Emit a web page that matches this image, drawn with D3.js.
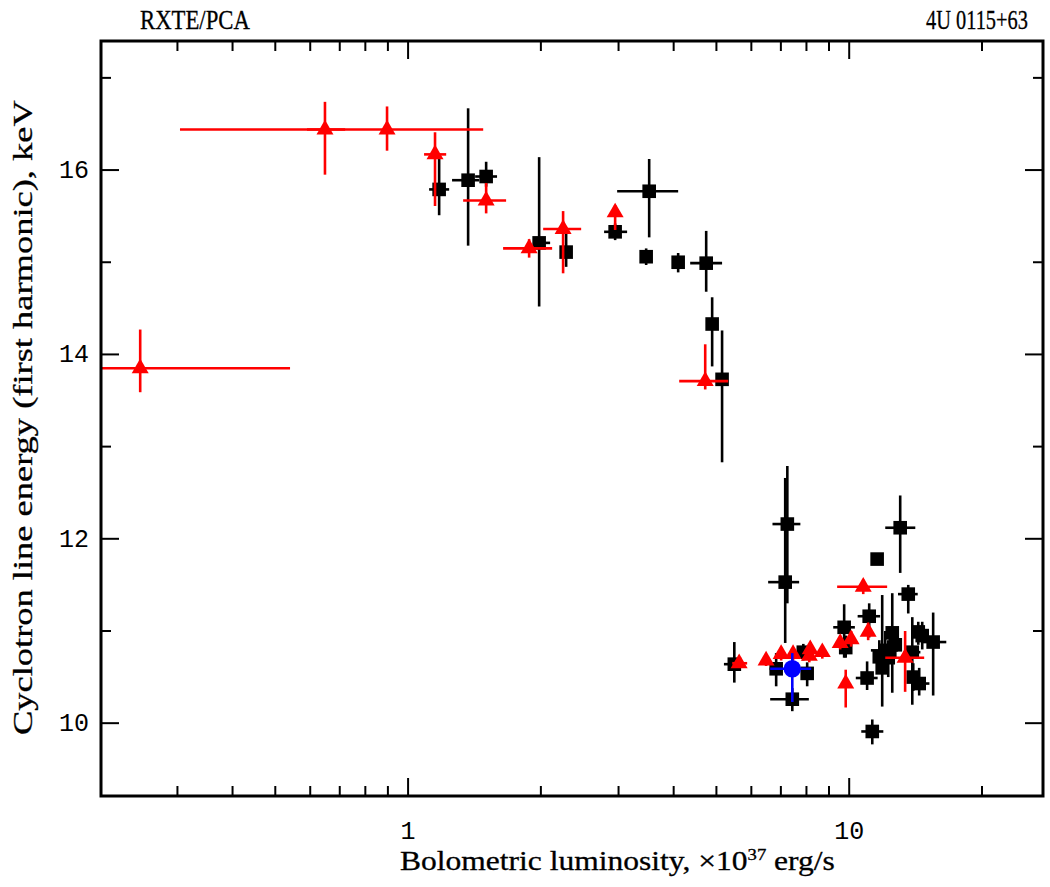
<!DOCTYPE html>
<html>
<head>
<meta charset="utf-8">
<script src="https://cdn.jsdelivr.net/npm/d3@7/dist/d3.min.js"></script>
<style>
    body { margin: 0; background: #fff; }
    .tick-label { font-family: "Liberation Mono", "DejaVu Sans Mono", monospace; font-size: 25px; fill: #000; }
    .title { font-family: "Liberation Serif", "DejaVu Serif", serif; font-size: 27px; fill: #000; stroke: #000; stroke-width: 0.3px; }
</style>
</head>
<body>
<svg id="chart" width="1050" height="887"></svg>
<script>
// Data: [L, Llo, Lhi, E, Elo, Ehi]  (L in 1e37 erg/s, E in keV)
const squares = [
    [1.176, 1.116, 1.239, 15.79, 15.51, 16.12],
    [1.368, 1.258, 1.45, 15.89, 15.18, 16.67],
    [1.503, 1.419, 1.591, 15.93, 15.82, 16.09],
    [1.982, 1.919, 2.099, 15.21, 14.52, 16.14],
    [2.282, 2.25, 2.32, 15.11, 14.95, 15.32],
    [2.947, 2.782, 3.137, 15.33, 15.24, 15.42],
    [3.52, 2.978, 4.095, 15.77, 15.27, 16.12],
    [3.465, 3.44, 3.49, 15.06, 14.97, 15.15],
    [4.095, 4.05, 4.14, 15.00, 14.89, 15.10],
    [4.74, 4.36, 5.15, 14.99, 14.68, 15.34],
    [4.89, 4.85, 4.93, 14.33, 13.87, 14.62],
    [5.15, 5.1, 5.2, 13.73, 12.83, 14.26],
    [7.24, 6.7, 7.75, 12.16, 11.30, 12.79],
    [7.16, 6.55, 7.7, 11.53, 10.87, 12.66],
    [5.49, 5.2, 5.65, 10.64, 10.44, 10.88],
    [6.83, 6.6, 7.05, 10.59, 10.4, 10.76],
    [8.03, 7.85, 8.2, 10.54, 10.4, 10.66],
    [7.87, 7.7, 8.05, 10.77, 10.68, 10.86],
    [7.43, 6.62, 8.1, 10.26, 10.13, 10.38],
    [13.05, 12.07, 14.12, 12.12, 11.63, 12.47],
    [11.57, 11.45, 11.7, 11.78, 11.72, 11.84],
    [13.61, 12.9, 14.3, 11.40, 11.19, 11.50],
    [9.74, 9.2, 10.3, 11.04, 10.71, 11.29],
    [11.10, 10.45, 11.75, 11.16, 10.93, 11.30],
    [9.82, 9.6, 10.0, 10.82, 10.71, 10.95],
    [10.98, 10.35, 11.6, 10.49, 10.36, 10.67],
    [11.28, 10.65, 11.95, 9.91, 9.77, 10.04],
    [11.88, 11.5, 12.2, 10.60, 10.18, 11.39],
    [12.52, 12.2, 12.85, 10.98, 10.33, 11.41],
    [12.07, 11.2, 12.9, 10.79, 10.6, 11.0],
    [12.72, 12.4, 13.0, 10.85, 10.7, 11.0],
    [12.26, 11.9, 12.6, 10.71, 10.5, 10.9],
    [13.90, 13.3, 14.5, 10.77, 10.20, 11.15],
    [14.34, 14.0, 14.7, 10.99, 10.85, 11.1],
    [14.64, 14.3, 15.0, 10.95, 10.8, 11.1],
    [15.50, 14.64, 16.6, 10.88, 10.30, 11.20],
    [13.97, 13.6, 14.3, 10.50, 10.35, 10.65],
    [14.41, 14.0, 15.2, 10.43, 10.3, 10.6],
    [11.7, 11.5, 11.9, 10.72, 10.55, 10.9]
];

const triangles = [
    [0.247, 0.2, 0.54, 13.85, 13.59, 14.27],
    [0.648, 0.59, 0.72, 16.44, 15.95, 16.74],
    [0.896, 0.304, 1.48, 16.44, 16.21, 16.69],
    [1.151, 1.087, 1.22, 16.17, 15.61, 16.41],
    [1.503, 1.333, 1.668, 15.67, 15.53, 15.86],
    [1.881, 1.642, 2.121, 15.15, 15.05, 15.25],
    [2.246, 2.024, 2.468, 15.36, 14.88, 15.555],
    [2.947, 2.947, 2.947, 15.54, 15.35, 15.62],
    [4.716, 4.117, 5.316, 13.71, 13.62, 14.11],
    [5.63, 5.43, 5.87, 10.65, 10.6, 10.7],
    [6.48, 6.4, 6.6, 10.68, 10.62, 10.74],
    [7.01, 6.9, 7.1, 10.75, 10.68, 10.82],
    [7.46, 7.35, 7.6, 10.75, 10.68, 10.82],
    [8.16, 8.0, 8.3, 10.80, 10.72, 10.88],
    [8.12, 8.0, 8.25, 10.73, 10.66, 10.80],
    [8.69, 8.55, 8.85, 10.77, 10.7, 10.84],
    [9.54, 9.4, 9.7, 10.87, 10.8, 10.95],
    [10.1, 9.9, 10.3, 10.91, 10.83, 11.0],
    [9.82, 9.82, 9.82, 10.43, 10.17, 10.58],
    [10.76, 9.39, 12.19, 11.48, 11.4, 11.56],
    [11.04, 10.9, 11.2, 10.99, 10.9, 11.09],
    [13.39, 12.07, 14.79, 10.71, 10.34, 11.0]
];

const circles = [
    [7.43, 6.62, 8.20, 10.59, 10.23, 10.76]
];

const xMajor = [1, 10];
const xMinor = [0.3, 0.4, 0.5, 0.6, 0.7, 0.8, 0.9, 2, 3, 4, 5, 6, 7, 8, 9, 20];
const yMajor = [10, 12, 14, 16];
const yMinor = [11, 13, 15, 17];

const svg = d3.select('#chart');
const margin = { top: 41, right: 7, bottom: 91, left: 101 };
const width = 1050 - margin.left - margin.right;
const height = 887 - margin.top - margin.bottom;

const x = d3.scaleLog().domain([0.2013, 27.5]).range([0, width]);
const y = d3.scaleLinear().domain([9.21, 17.4]).range([height, 0]);

const g = svg.append('g')
    .attr('transform', `translate(${margin.left},${margin.top})`);

g.append('clipPath').attr('id', 'clip')
    .append('rect').attr('width', width).attr('height', height);

const plot = g.append('g').attr('clip-path', 'url(#clip)');

function drawSeries(data, color, shape) {
    const s = plot.append('g');
    data.forEach(d => {
        s.append('line')
            .attr('x1', x(d[1])).attr('x2', x(d[2]))
            .attr('y1', y(d[3])).attr('y2', y(d[3]))
            .attr('stroke', color).attr('stroke-width', 2.6);
        s.append('line')
            .attr('x1', x(d[0])).attr('x2', x(d[0]))
            .attr('y1', y(d[4])).attr('y2', y(d[5]))
            .attr('stroke', color).attr('stroke-width', 2.6);
    });
    s.selectAll('.mark')
        .data(data)
        .enter()
        .append('path')
        .attr('transform', d => `translate(${x(d[0])},${y(d[3])})`)
        .attr('d', shape)
        .attr('fill', color);
}

drawSeries(squares, '#000', d3.symbol().type(d3.symbolSquare).size(185)());
drawSeries(triangles, '#ff0000', d3.symbol().type(d3.symbolTriangle).size(125)());
drawSeries(circles, '#0000ff', d3.symbol().type(d3.symbolCircle).size(240)());

// Frame
g.append('rect')
    .attr('width', width).attr('height', height)
    .attr('fill', 'none').attr('stroke', '#000').attr('stroke-width', 3);

// Ticks on all four sides
const ticks = g.append('g').attr('stroke', '#000').attr('stroke-width', 2);
xMajor.concat(xMinor).forEach(v => {
    const len = xMajor.includes(v) ? 18 : 10;
    ticks.append('line').attr('x1', x(v)).attr('x2', x(v)).attr('y1', height).attr('y2', height - len);
    ticks.append('line').attr('x1', x(v)).attr('x2', x(v)).attr('y1', 0).attr('y2', len);
});
yMajor.concat(yMinor).forEach(v => {
    const len = yMajor.includes(v) ? 18 : 10;
    ticks.append('line').attr('x1', 0).attr('x2', len).attr('y1', y(v)).attr('y2', y(v));
    ticks.append('line').attr('x1', width).attr('x2', width - len).attr('y1', y(v)).attr('y2', y(v));
});

// Tick labels
xMajor.forEach(v => {
    g.append('text').attr('class', 'tick-label')
        .attr('x', x(v)).attr('y', height + 43)
        .attr('text-anchor', 'middle')
        .text(v);
});
yMajor.forEach(v => {
    g.append('text').attr('class', 'tick-label')
        .attr('x', -12).attr('y', y(v) + 8)
        .attr('text-anchor', 'end')
        .text(v);
});

// Titles (condensed horizontally to the reference widths)
function squeezed(parent, left, base, target, rotate) {
    const grp = parent.append('g');
    const t = grp.append('text').attr('class', 'title');
    const fit = () => {
        const k = target / t.node().getComputedTextLength();
        grp.attr('transform', `translate(${left},${base})${rotate ? ' rotate(-90)' : ''} scale(${k},1)`);
    };
    return { t, fit };
}

const xt = squeezed(svg, 400, 870, 435);
xt.t.append('tspan').text('Bolometric luminosity, \u00d710');
xt.t.append('tspan').attr('font-size', 16).attr('dy', -10).text('37');
xt.t.append('tspan').attr('dy', 10).text(' erg/s');
xt.fit();

const yt = squeezed(svg, 32, 735, 635, true);
yt.t.text('Cyclotron line energy (first harmonic), keV');
yt.fit();

const lt = squeezed(svg, 140, 29, 110);
lt.t.text('RXTE/PCA');
lt.fit();

const rt = squeezed(svg, 926, 29, 102);
rt.t.text('4U 0115+63');
rt.fit();
</script>
</body>
</html>
